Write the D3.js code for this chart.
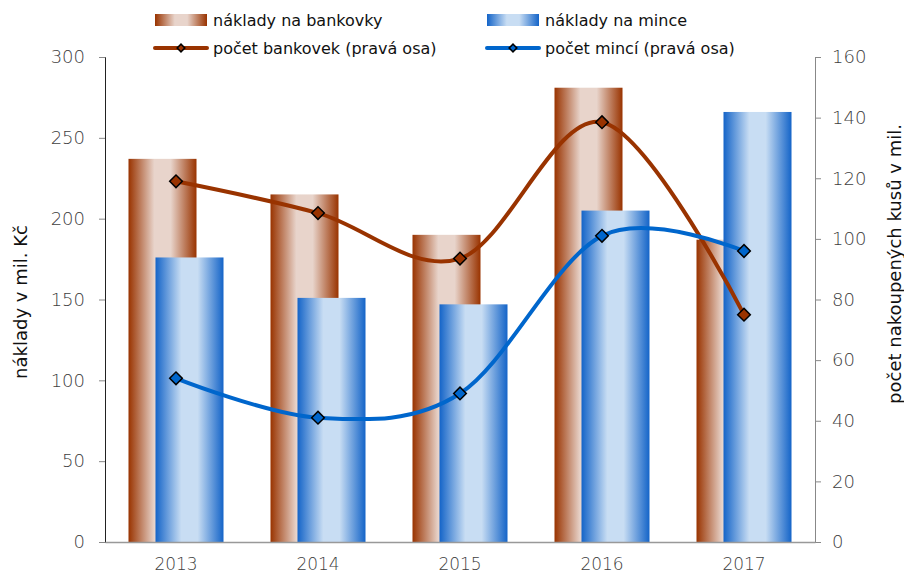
<!DOCTYPE html>
<html>
<head>
<meta charset="utf-8">
<script src="https://cdn.jsdelivr.net/npm/d3@7"></script>
<style>
body { margin: 0; background: #fff; }
svg text { font-family: Verdana, "DejaVu Sans", sans-serif; }
.tk { font-weight: 200; }
</style>
</head>
<body>
<svg id="chart" width="904" height="576"></svg>
<script>
// data
var years = ["2013", "2014", "2015", "2016", "2017"];
var costNotes = [237, 215, 190, 281, 187];   // naklady na bankovky (mil. Kc)
var costCoins = [176, 151, 147, 205, 266];   // naklady na mince
var countNotes = [119, 108.5, 93.5, 138.5, 75]; // pocet bankovek (prava osa)
var countCoins = [54, 41, 49, 101, 96];       // pocet minci
var leftTicks = [0, 50, 100, 150, 200, 250, 300];
var rightTicks = [0, 20, 40, 60, 80, 100, 120, 140, 160];

var svg = d3.select("#chart");
var plotL = 105, plotR = 815, plotT = 57, plotB = 542;

var x = d3.scaleBand().domain(years).range([plotL, plotR]);
var yL = d3.scaleLinear().domain([0, 300]).range([plotB, plotT]);
var yR = d3.scaleLinear().domain([0, 160]).range([plotB, plotT]);

var barW = 68, shift = 13.5;

// gradients for the bars
var defs = svg.append("defs");
function grad(id, dark, light) {
  var g = defs.append("linearGradient").attr("id", id)
    .attr("x1", "0%").attr("x2", "100%").attr("y1", "0%").attr("y2", "0%");
  g.append("stop").attr("offset", "0%").attr("stop-color", dark);
  g.append("stop").attr("offset", "38%").attr("stop-color", light);
  g.append("stop").attr("offset", "62%").attr("stop-color", light);
  g.append("stop").attr("offset", "100%").attr("stop-color", dark);
}
grad("gNotes", "#993300", "#e8d4cb");
grad("gCoins", "#1464c8", "#c8ddf3");

// bars
svg.append("g").selectAll("rect").data(costNotes).join("rect")
  .attr("x", function(d, i) { return x(years[i]) + x.bandwidth() / 2 - shift - barW / 2; })
  .attr("y", function(d) { return yL(d); })
  .attr("width", barW)
  .attr("height", function(d) { return plotB - yL(d); })
  .attr("fill", "url(#gNotes)");

svg.append("g").selectAll("rect").data(costCoins).join("rect")
  .attr("x", function(d, i) { return x(years[i]) + x.bandwidth() / 2 + shift - barW / 2; })
  .attr("y", function(d) { return yL(d); })
  .attr("width", barW)
  .attr("height", function(d) { return plotB - yL(d); })
  .attr("fill", "url(#gCoins)");

// axes
var axL = svg.append("g").attr("transform", "translate(" + plotL + ",0)")
  .call(d3.axisLeft(yL).tickValues(leftTicks).tickSize(6).tickPadding(14));
axL.select(".domain").attr("stroke", "#222");
axL.selectAll(".tick line").attr("stroke", "#888");
axL.selectAll("text").attr("class", "tk").attr("fill", "#404040").style("font-size", "18px");

var axR = svg.append("g").attr("transform", "translate(" + plotR + ",0)")
  .call(d3.axisRight(yR).tickValues(rightTicks).tickSize(6).tickPadding(11));
axR.select(".domain").attr("stroke", "#888");
axR.selectAll(".tick line").attr("stroke", "#888");
axR.selectAll("text").attr("class", "tk").attr("fill", "#404040").style("font-size", "18px");

var axB = svg.append("g").attr("transform", "translate(0," + plotB + ")")
  .call(d3.axisBottom(x).tickSize(0).tickPadding(16));
axB.select(".domain").attr("stroke", "#999").attr("stroke-width", 1.5);
axB.selectAll("text").attr("class", "tk").attr("fill", "#404040").style("font-size", "17px");

// axis titles
svg.append("text").attr("transform", "translate(27,302) rotate(-90)")
  .attr("text-anchor", "middle").attr("fill", "#111").style("font-size", "18px")
  .text("náklady v mil. Kč");
svg.append("text").attr("transform", "translate(901,264) rotate(-90)")
  .attr("text-anchor", "middle").attr("fill", "#111").style("font-size", "18px")
  .text("počet nakoupených kusů v mil.");

// lines
var cx = function(i) { return x(years[i]) + x.bandwidth() / 2; };
var line = d3.line()
  .x(function(d, i) { return cx(i); })
  .y(function(d) { return yR(d); })
  .curve(d3.curveCardinal.tension(0));

var diamond = d3.symbol().type(d3.symbolSquare).size(80);

function series(vals, color) {
  svg.append("path").datum(vals).attr("d", line)
    .attr("fill", "none").attr("stroke", color).attr("stroke-width", 4);
  svg.append("g").selectAll("path").data(vals).join("path")
    .attr("d", diamond)
    .attr("transform", function(d, i) { return "translate(" + cx(i) + "," + yR(d) + ") rotate(45)"; })
    .attr("fill", color).attr("stroke", "#000").attr("stroke-width", 1.5);
}
series(countNotes, "#993300");
series(countCoins, "#0066cc");

// legend
var legend = [
  { label: "náklady na bankovky", type: "bar", fill: "url(#gNotes)", x: 155, y: 20 },
  { label: "náklady na mince", type: "bar", fill: "url(#gCoins)", x: 487, y: 20 },
  { label: "počet bankovek (pravá osa)", type: "line", fill: "#993300", x: 155, y: 48 },
  { label: "počet mincí (pravá osa)", type: "line", fill: "#0066cc", x: 487, y: 48 }
];
var lg = svg.append("g").selectAll("g").data(legend).join("g")
  .attr("transform", function(d) { return "translate(" + d.x + "," + d.y + ")"; });
lg.each(function(d) {
  var g = d3.select(this);
  if (d.type == "bar") {
    g.append("rect").attr("x", 0).attr("y", -6).attr("width", 52).attr("height", 12).attr("fill", d.fill);
  } else {
    g.append("line").attr("x1", 0).attr("x2", 52).attr("y1", 0).attr("y2", 0)
      .attr("stroke", d.fill).attr("stroke-width", 4).attr("stroke-linecap", "round");
    g.append("path").attr("d", d3.symbol().type(d3.symbolSquare).size(30))
      .attr("transform", "translate(26,0) rotate(45)").attr("fill", d.fill)
      .attr("stroke", "#000").attr("stroke-width", 1.5);
  }
  g.append("text").attr("x", 58).attr("y", 0).attr("dy", "0.35em")
    .attr("fill", "#111").style("font-size", "16px").text(d.label);
});
</script>
</body>
</html>
